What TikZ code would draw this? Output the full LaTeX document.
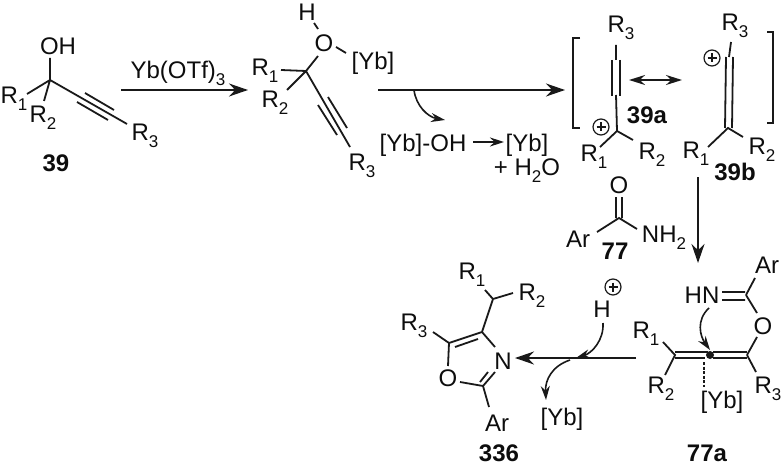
\documentclass[tikz,border=0pt]{standalone}
\usepackage{fontspec}
\setmainfont{Liberation Sans}
\usetikzlibrary{arrows.meta,calc}
\newcommand{\sbs}[1]{\raisebox{-0.3em}{\fontsize{17}{17}\selectfont #1}}
\tikzset{
  x=1pt,y=-1pt,
  lab/.style={inner sep=0pt,font=\fontsize{24}{26}\selectfont,text=black!95},
  cmpd/.style={inner sep=0pt,font=\fontsize{24}{26}\selectfont\bfseries,text=black!95},
  bond/.style={line width=1.8pt,draw=black!90},
  thin bond/.style={line width=1.6pt,draw=black!90},
  rxn/.style={line width=1.8pt,draw=black!90,-{Stealth[length=19pt,width=13pt]}},
  small rxn/.style={line width=1.8pt,draw=black!90,-{Stealth[length=14pt,width=9pt]}},
  both rxn/.style={line width=1.8pt,draw=black!90,{Stealth[length=16pt,width=10pt]}-{Stealth[length=16pt,width=10pt]}},
  curved/.style={line width=1.6pt,draw=black!90,-{Stealth[length=14pt,width=9pt]}},
  charge/.style={circle,draw=black!90,line width=1.2pt,minimum size=16pt,inner sep=0pt},
}
\newcommand{\plussign}[1]{\draw[line width=1.2pt,draw=black!90] ($(#1)+(-4.5,0)$) -- ($(#1)+(4.5,0)$) ($(#1)+(0,-4.5)$) -- ($(#1)+(0,4.5)$);}
\begin{document}
\begin{tikzpicture}
\useasboundingbox (0,0) rectangle (783,465);
% ---------- 39
\coordinate (a1) at (50,80);
\node[lab] (a1oh) at (58,46) {OH};
\node[lab] (a1r1) at (14,99) {R\sbs{1}};
\node[lab] (a1r2) at (43,118) {R\sbs{2}};
\node[lab] (a1r3) at (145,136) {R\sbs{3}};
\node[cmpd] (n39) at (56,163) {39};
\draw[bond] (50,58) -- (a1) (27,94) -- (a1) (a1) -- (44,101) (a1) -- (127,124);
\draw[bond] (85,93) -- (114,110) (77,102) -- (108,120);
% ---------- arrow 1
\coordinate (r1s) at (121,90); \coordinate (r1e) at (248,90);
\draw[rxn] (r1s) -- (r1e);
\node[lab] (yb1) at (178,73) {Yb(OTf)\sbs{3}};
% ---------- 2nd intermediate
\coordinate (b1) at (306,71);
\node[lab] (bh) at (307,12) {H};
\node[lab] (bo) at (324,43) {O};
\node[lab] (byb) at (373,63) {[Yb]};
\node[lab] (br1) at (265,71) {R\sbs{1}};
\node[lab] (br2) at (275,103) {R\sbs{2}};
\node[lab] (br3) at (362,166) {R\sbs{3}};
\draw[bond] (314,23) -- (318,29) (336,47) -- (346,53) (b1) -- (318,56) (281,70) -- (b1) (287,90) -- (b1) (b1) -- (350,147);
\draw[bond] (328,97) -- (347,128) (318,105) -- (337,135);
% ---------- arrow 2
\coordinate (r2s) at (378,90); \coordinate (r2e) at (565,90);
\coordinate (r2b) at (414,90); \coordinate (r2f) at (445,120);
\draw[rxn] (r2s) -- (r2e);
\draw[curved] (r2b) .. controls (416,106) and (428,117) .. (r2f);
\node[lab] (ybo) at (423,145) {[Yb]-OH};
\coordinate (r3s) at (473,142); \coordinate (r3e) at (504,142);
\draw[small rxn] (r3s) -- (r3e);
\node[lab] (ybb) at (527,145) {[Yb]};
\node[lab] (water) at (527,171) {+ H\sbs{2}O};
% ---------- brackets
\draw[thin bond] (580,38) -- (573,38) -- (573,128) -- (580,128);
\draw[thin bond] (767,32) -- (773,32) -- (773,123) -- (767,123);
% ---------- 39a
\coordinate (c1) at (617,131);
\node[lab] (cr3) at (621,28) {R\sbs{3}};
\node[lab] (cr1) at (594,157) {R\sbs{1}};
\node[lab] (cr2) at (652,155) {R\sbs{2}};
\node[charge] (cp) at (601,127) {};
\plussign{cp}
\node[cmpd] (n39a) at (647,115) {39a};
\draw[bond] (616,45) -- (616,60) (616,95) -- (c1) (600,147) -- (c1) -- (633,140);
\draw[bond] (612,60) -- (612,96) (620,60) -- (620,96);
% ---------- resonance
\coordinate (rs) at (629,80); \coordinate (re) at (682,80);
\draw[both rxn] (rs) -- (re);
% ---------- 39b
\coordinate (d1) at (728,128);
\node[lab] (dr3) at (735,26) {R\sbs{3}};
\node[lab] (dr1) at (696,154) {R\sbs{1}};
\node[lab] (dr2) at (762,150) {R\sbs{2}};
\node[charge] (dp) at (712,58) {};
\plussign{dp}
\node[cmpd] (n39b) at (735,172) {39b};
\draw[bond] (731,42) -- (729,57) (726,57) -- (725,128) (733,57) -- (732,128) (708,147) -- (d1) -- (743,137);
% ---------- 77
\coordinate (e1) at (619,218);
\node[lab] (eo) at (619,185) {O};
\node[lab] (ear) at (578,239) {Ar};
\node[lab] (enh) at (664,238) {NH\sbs{2}};
\node[cmpd] (n77) at (615,251) {77};
\draw[bond] (616,197) -- (616,218) (622,197) -- (622,218) (597,232) -- (e1) -- (637,229);
% ---------- down arrow
\coordinate (r4s) at (698,177); \coordinate (r4e) at (698,263);
\draw[rxn] (r4s) -- (r4e);
% ---------- 77a
\coordinate (f1) at (746,295); \coordinate (f2) at (747,355); \coordinate (f3) at (710,355); \coordinate (f4) at (675,355);
\node[lab] (far) at (767,265) {Ar};
\node[lab] (fhn) at (702,295) {HN};
\node[lab] (fo) at (763,326) {O};
\node[lab] (fr1) at (646,334) {R\sbs{1}};
\node[lab] (fr2) at (661,389) {R\sbs{2}};
\node[lab] (fr3) at (768,389) {R\sbs{3}};
\node[lab] (fyb) at (722,402) {[Yb]};
\node[cmpd] (n77a) at (707,453) {77a};
\draw[bond] (755,278) -- (f1) (722,292) -- (745,292) (722,300) -- (745,300) (f1) -- (757,313) (757,337) -- (f2);
\draw[bond] (713,352) -- (747,352) (713,358) -- (747,358) (675,352) -- (708,352) (675,358) -- (705,358);
\draw[bond] (663,342) -- (f4) -- (665,375) (f2) -- (756,372);
\fill[black!90] (f3) circle (4pt);
\draw[line width=1.8pt,draw=black!90,dash pattern=on 3pt off 1.5pt] (704,362) -- (704,387);
\coordinate (g1) at (709,308); \coordinate (g2) at (710,350);
\draw[curved] (g1) .. controls (696,320) and (700,336) .. (g2);
% ---------- main arrow
\coordinate (r5s) at (636,358); \coordinate (r5e) at (515,358);
\draw[rxn] (r5s) -- (r5e);
\node[lab] (hh) at (602,309) {H};
\node[charge] (hp) at (613,287) {};
\plussign{hp}
\coordinate (h1) at (603,323); \coordinate (h2) at (576,358);
\draw[curved] (h1) .. controls (604,340) and (592,353) .. (h2);
\coordinate (i1) at (570,360); \coordinate (i2) at (546,400);
\draw[curved] (i1) .. controls (552,366) and (545,380) .. (i2);
\node[lab] (iyb) at (562,419) {[Yb]};
% ---------- 336
\coordinate (j1) at (493,299); \coordinate (j2) at (482,332); \coordinate (j3) at (449,343); \coordinate (j4) at (483,386);
\node[lab] (jr1) at (472,275) {R\sbs{1}};
\node[lab] (jr2) at (532,296) {R\sbs{2}};
\node[lab] (jr3) at (414,326) {R\sbs{3}};
\node[lab] (jn) at (503,361) {N};
\node[lab] (jo) at (448,378) {O};
\node[lab] (jar) at (497,423) {Ar};
\node[cmpd] (n336) at (499,453) {336};
\draw[bond] (485,290) -- (j1) -- (513,293) (j1) -- (j2) (433,332) -- (j3) -- (j2) -- (495,347);
\draw[bond] (455,347) -- (478,339) (j3) -- (448,366) (460,382) -- (j4) -- (495,372) (488,372) -- (480,382) (j4) -- (489,407);
\end{tikzpicture}
\end{document}
